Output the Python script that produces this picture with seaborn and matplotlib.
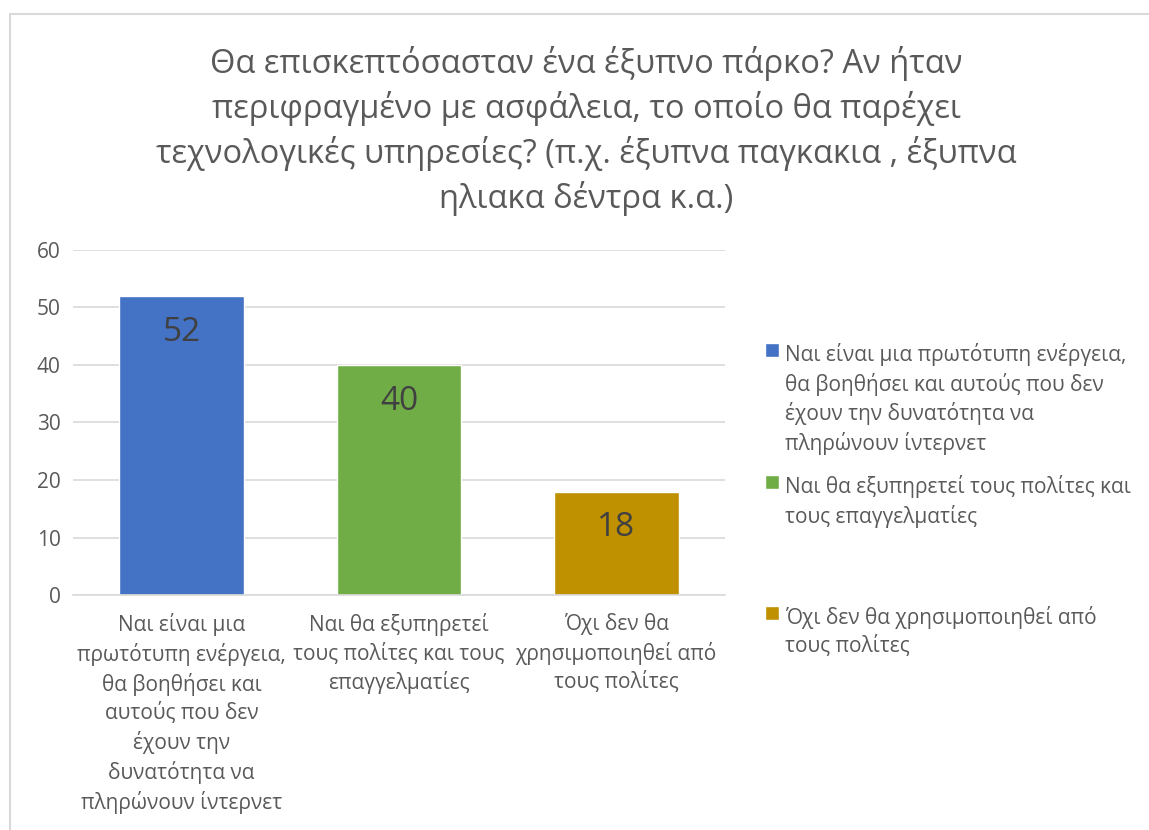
import matplotlib
matplotlib.use("Agg")
import matplotlib.pyplot as plt
from matplotlib.patches import Rectangle
import seaborn as sns
import pandas as pd

# Data
categories = [
    "Ναι είναι μια πρωτότυπη ενέργεια, θα βοηθήσει και αυτούς που δεν έχουν την δυνατότητα να πληρώνουν ίντερνετ",
    "Ναι θα εξυπηρετεί τους πολίτες και τους επαγγελματίες",
    "Όχι δεν θα χρησιμοποιηθεί από τους πολίτες",
]
values = [52, 40, 18]
tick_labels = [
    "Ναι είναι μια\nπρωτότυπη ενέργεια,\nθα βοηθήσει και\nαυτούς που δεν\nέχουν την\nδυνατότητα να\nπληρώνουν ίντερνετ",
    "Ναι θα εξυπηρετεί\nτους πολίτες και τους\nεπαγγελματίες",
    "Όχι δεν θα\nχρησιμοποιηθεί από\nτους πολίτες",
]
legend_labels = [
    "Ναι είναι μια πρωτότυπη ενέργεια,\nθα βοηθήσει και αυτούς που δεν\nέχουν την δυνατότητα να\nπληρώνουν ίντερνετ",
    "Ναι θα εξυπηρετεί τους πολίτες και\nτους επαγγελματίες",
    "Όχι δεν θα χρησιμοποιηθεί από\nτους πολίτες",
]
colors = ["#4472C4", "#70AD47", "#BF9000"]
title = ("Θα επισκεπτόσασταν ένα έξυπνο πάρκο? Αν ήταν\n"
         "περιφραγμένο με ασφάλεια, το οποίο θα παρέχει\n"
         "τεχνολογικές υπηρεσίες? (π.χ. έξυπνα παγκακια , έξυπνα\n"
         "ηλιακα δέντρα κ.α.)")

sns.set_theme(style="white")
plt.rcParams["font.family"] = ["Open Sans", "DejaVu Sans"]
text_color = "#595959"

df = pd.DataFrame({"category": categories, "value": values})

fig = plt.figure(figsize=(11.49, 8.30), dpi=100)
ax = fig.add_axes([0.0635, 0.283, 0.5675, 0.416])

sns.barplot(data=df, x="category", y="value", hue="category",
            palette=colors, width=0.575, saturation=1, legend=False, ax=ax)

ax.set_ylim(0, 60)
ax.set_yticks(range(0, 61, 10))
ax.set_xlim(-0.5, 2.5)
ax.yaxis.grid(True, color="#D9D9D9", linewidth=1.2)
ax.set_axisbelow(True)
for side in ["top", "right", "left"]:
    ax.spines[side].set_visible(False)
ax.spines["bottom"].set_color("#D9D9D9")
ax.spines["bottom"].set_linewidth(1.2)
ax.set_xlabel("")
ax.set_ylabel("")
ax.tick_params(axis="both", length=0, labelsize=15, colors=text_color)
ax.tick_params(axis="y", pad=9)
ax.tick_params(axis="x", pad=13)
ax.set_xticks(range(len(tick_labels)))
ax.set_xticklabels(tick_labels, linespacing=1.38, va="top")

for cont in ax.containers:
    ax.bar_label(cont, padding=-38, fontsize=24, color="#404040")

fig.text(0.51, 0.945, title, ha="center", va="top", fontsize=23.5,
         color=text_color, linespacing=1.38)

# legend entries, one per category, top-aligned squares
handles = [c.patches[0] for c in ax.containers]
legend_y = [0.599, 0.440, 0.282]
for h, lab, yy in zip(handles, legend_labels, legend_y):
    leg = fig.legend([h], [lab], loc="upper left", bbox_to_anchor=(0.657, yy),
                     frameon=False, fontsize=15, handlelength=0.65,
                     handleheight=0.65, handletextpad=0.3, borderpad=0)
    for t in leg.get_texts():
        t.set_color(text_color)
        t.set_linespacing(1.36)
    try:
        for col in leg._legend_handle_box.get_children():
            for item in col.get_children():
                item.align = "top"
    except Exception:
        pass

fig.patches.append(Rectangle((10 / 1149, -0.1), 1.2, 1.1 - 14 / 830,
                             transform=fig.transFigure, fill=False,
                             edgecolor="#D9D9D9", linewidth=1.5))

fig.savefig("out.png", dpi=100)
